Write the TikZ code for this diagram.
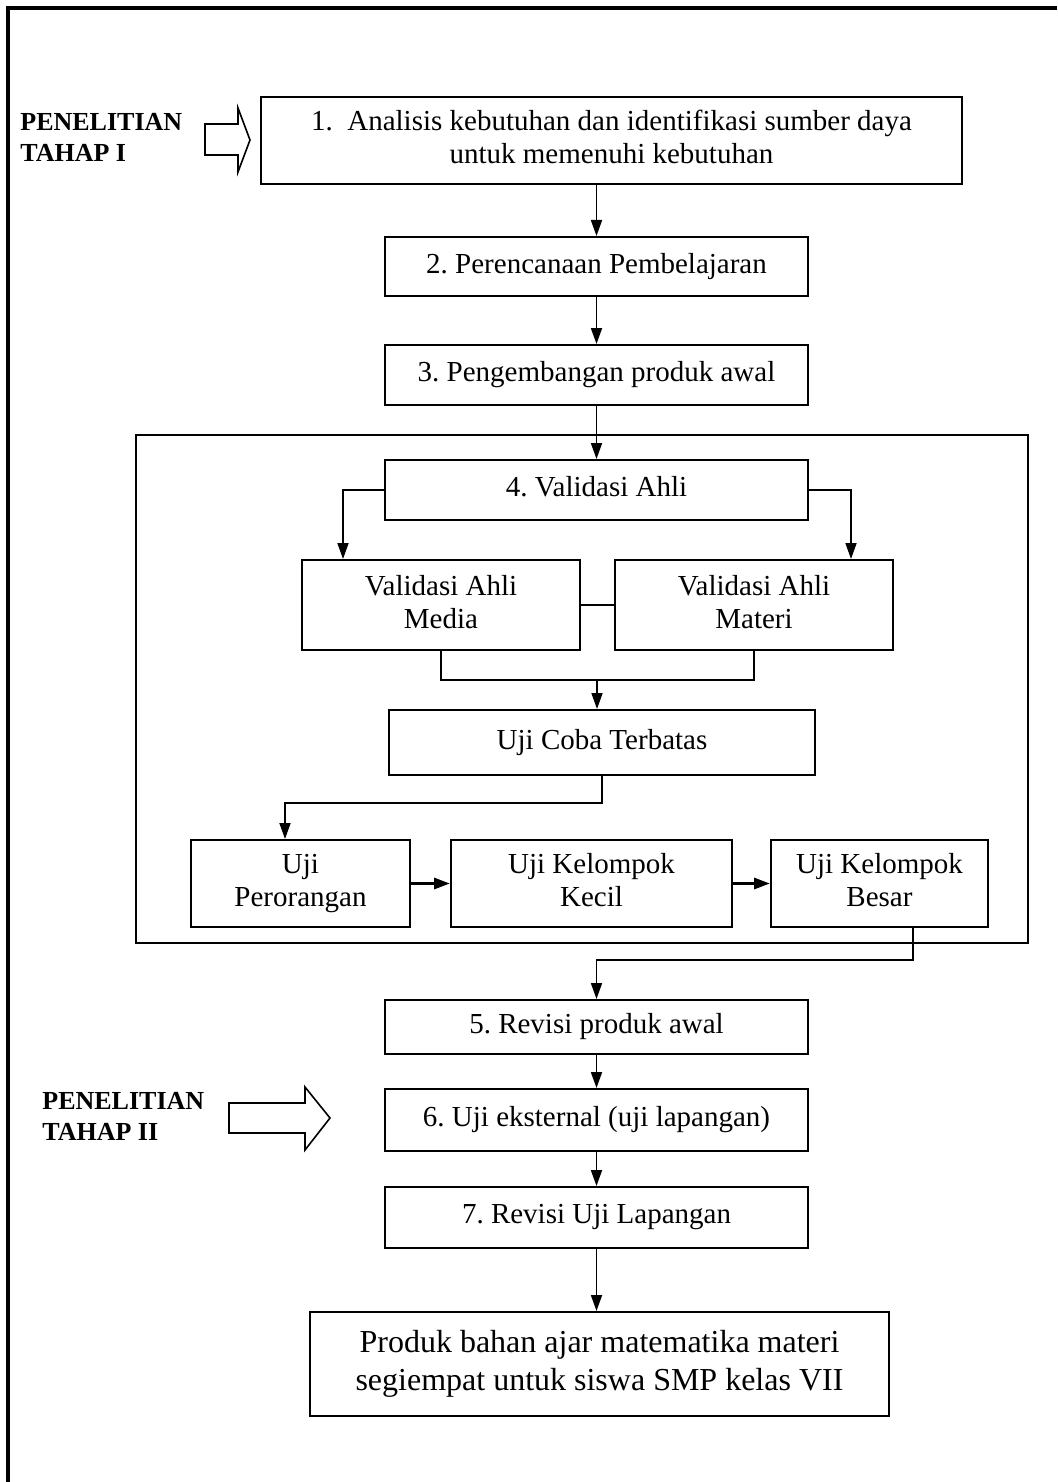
\documentclass[tikz,border=0pt]{standalone}
\usepackage{fontspec}
\setmainfont{Liberation Serif}
\usetikzlibrary{positioning,arrows.meta}
\frenchspacing

\begin{document}
\begin{tikzpicture}[x=0.5pt,y=-0.5pt,
        box/.style={draw,line width=1pt,align=center,inner sep=2pt,text depth=3.5pt,font=\fontsize{14.5}{16.5}\selectfont},
        arr/.style={-{Triangle[length=8pt,width=5.5pt]},line width=0.9pt},
        lbl/.style={align=left,inner sep=0pt,font=\fontsize{13}{15.5}\selectfont\bfseries}]
        \useasboundingbox (0,0) rectangle (1057,1482);
        \draw[line width=2pt] (1057,8) -- (8,8) -- (8,1482);
        \draw[line width=1pt] (136,435) rectangle (1028,943);
        \node[box,minimum width=350.5pt,minimum height=43.5pt] (s1) at (611.5,140.5) {1.\ \ Analisis kebutuhan dan identifikasi sumber daya\\untuk memenuhi kebutuhan};
        \node[box,minimum width=211.5pt,minimum height=29.5pt] (s2) at (596.5,266.5) {2. Perencanaan Pembelajaran};
        \node[box,minimum width=211.5pt,minimum height=30pt] (s3) at (596.5,375) {3. Pengembangan produk awal};
        \node[box,minimum width=211.5pt,minimum height=30pt] (s4) at (596.5,490) {4. Validasi Ahli};
        \node[box,minimum width=139pt,minimum height=45pt] (media) at (441,605) {Validasi Ahli\\Media};
        \node[box,minimum width=139pt,minimum height=45pt] (materi) at (754,605) {Validasi Ahli\\Materi};
        \node[box,minimum width=213pt,minimum height=32.5pt] (coba) at (602,742.5) {Uji Coba Terbatas};
        \node[box,minimum width=109.5pt,minimum height=43.5pt] (pero) at (300.5,883.5) {Uji\\Perorangan};
        \node[box,minimum width=140.5pt,minimum height=43.5pt] (kecil) at (591.5,883.5) {Uji Kelompok\\Kecil};
        \node[box,minimum width=108.5pt,minimum height=43.5pt] (besar) at (879.5,883.5) {Uji Kelompok\\Besar};
        \node[box,minimum width=211.5pt,minimum height=27pt] (s5) at (596.5,1027) {5. Revisi produk awal};
        \node[box,minimum width=211.5pt,minimum height=31pt] (s6) at (596.5,1120) {6. Uji eksternal (uji lapangan)};
        \node[box,minimum width=211.5pt,minimum height=30.5pt] (s7) at (596.5,1217.5) {7. Revisi Uji Lapangan};
        \node[box,minimum width=289.5pt,minimum height=52pt,font=\fontsize{16}{19}\selectfont] (hasil) at (599.5,1364) {Produk bahan ajar matematika materi\\segiempat untuk siswa SMP kelas VII};
        \node[lbl,anchor=north west] (tahap1) at (20,113) {PENELITIAN\\TAHAP I};
        \node[lbl,anchor=north west] (tahap2) at (42,1092) {PENELITIAN\\TAHAP II};
        \draw[line width=0.8pt] (205,124) -- (238,124) -- (238,108) -- (250,140) -- (238,172) -- (238,155) -- (205,155) -- cycle;
        \draw[line width=0.8pt] (229,1103) -- (305,1103) -- (305,1087) -- (330,1118) -- (305,1150) -- (305,1133) -- (229,1133) -- cycle;
        \coordinate (join) at (597,680);
        \coordinate (turn1) at (285,803);
        \coordinate (turn2) at (913,960);
        \draw[arr] (s1.south -| s2.north) -- (s2.north);
        \foreach \a/\b in {s2/s3,s3/s4,s5/s6,s6/s7} {
            \draw[arr] (\a) -- (\b);
        }
        \draw[arr] (s4.west) -| ([xshift=-49pt]media.north);
        \draw[arr] (s4.east) -| ([xshift=48.5pt]materi.north);
        \draw[line width=0.9pt] (media) -- (materi);
        \draw[line width=0.9pt] (media.south) |- (join) -| (materi.south);
        \draw[arr] (join) -- (join |- coba.north);
        \draw[arr] (coba.south) |- (turn1) -- (turn1 |- pero.north);
        \draw[arr,line width=1.5pt] (pero) -- (kecil);
        \draw[arr,line width=1.5pt] (kecil) -- (besar);
        \draw[arr] (turn2 |- besar.south) -- (turn2) -| (s5.north);
        \draw[arr] (s7) -- (s7 |- hasil.north);
    \end{tikzpicture}
\end{document}
